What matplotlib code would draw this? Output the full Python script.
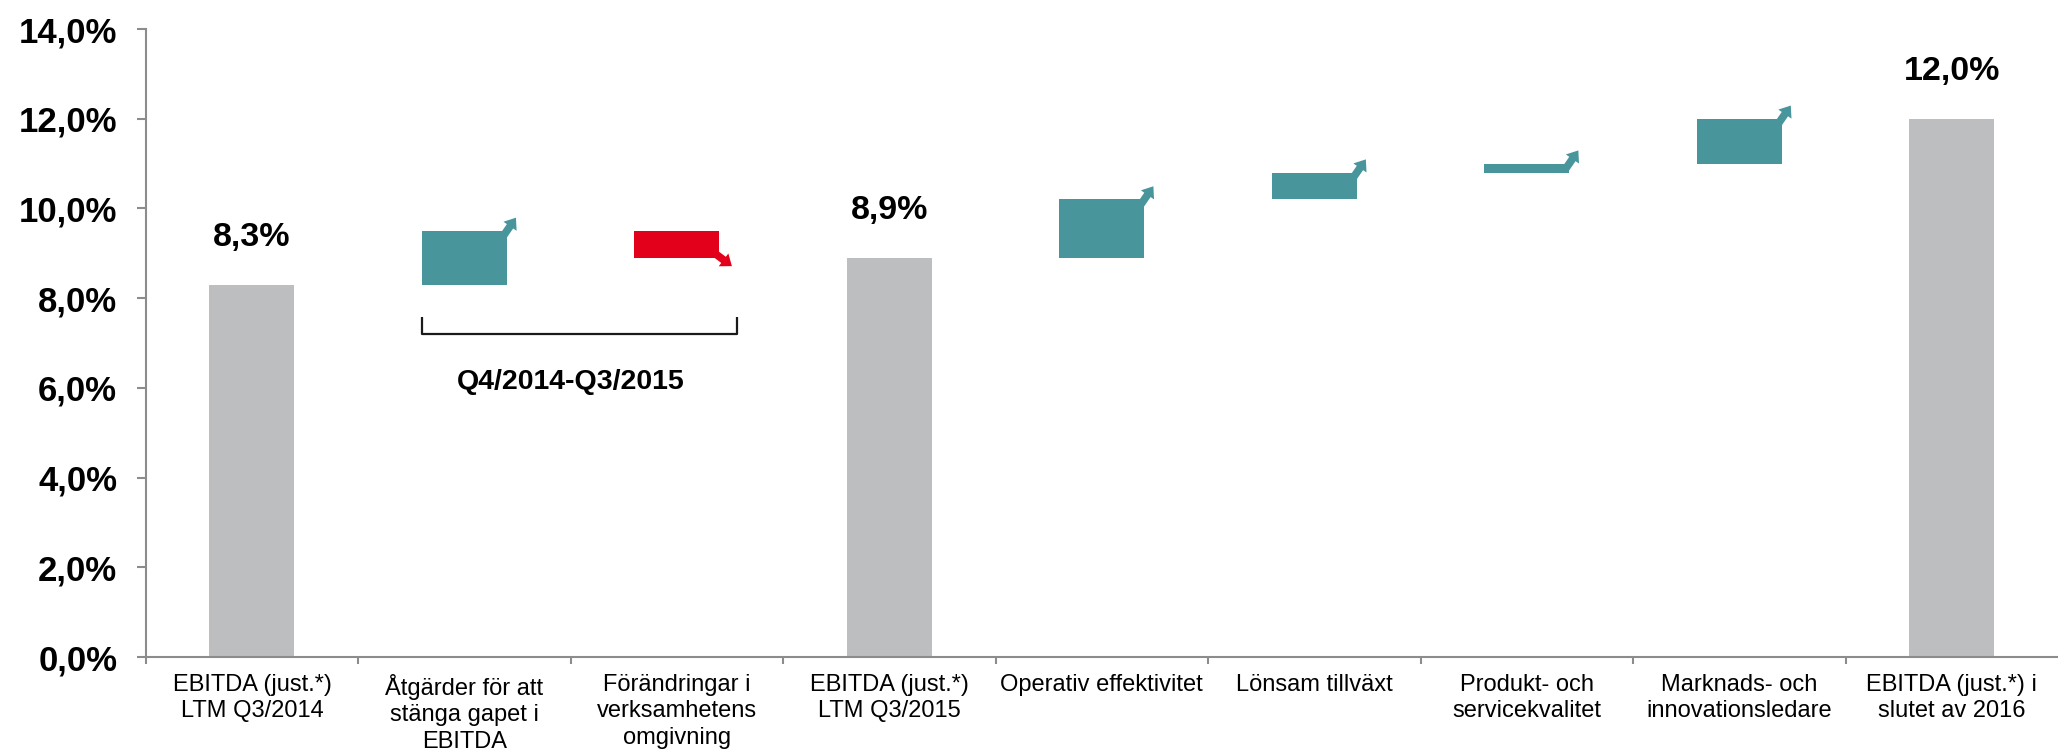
import matplotlib
matplotlib.use("Agg")
import matplotlib.pyplot as plt
from matplotlib.transforms import offset_copy

# ---- data ----
categories = [
    "EBITDA (just.*)\nLTM Q3/2014",
    "Åtgärder för att\nstänga gapet i\nEBITDA",
    "Förändringar i\nverksamhetens\nomgivning",
    "EBITDA (just.*)\nLTM Q3/2015",
    "Operativ effektivitet",
    "Lönsam tillväxt",
    "Produkt- och\nservicekvalitet",
    "Marknads- och\ninnovationsledare",
    "EBITDA (just.*) i\nslutet av 2016",
]
kinds = ["total", "delta", "delta", "total", "delta", "delta", "delta", "delta", "total"]
values = [8.3, 1.2, -0.6, 8.9, 1.3, 0.6, 0.2, 1.0, 12.0]
total_labels = ["8,3%", "", "", "8,9%", "", "", "", "", "12,0%"]
y_ticks = [0, 2, 4, 6, 8, 10, 12, 14]
y_tick_labels = ["0,0%", "2,0%", "4,0%", "6,0%", "8,0%", "10,0%", "12,0%", "14,0%"]
bracket_text = "Q4/2014-Q3/2015"

# ---- style ----
GRAY = "#BDBEC0"
TEAL = "#48959C"
RED = "#E2001A"
AXIS = "#8C8C8C"
plt.rcParams["font.family"] = ["Liberation Sans", "DejaVu Sans"]

fig = plt.figure(figsize=(20.58, 7.54), dpi=100)
ax = fig.add_axes([0.0708, 0.1286, 0.9292, 0.8329])

width = 0.4
xs = list(range(len(categories)))
running = 0.0
bottoms, heights, colors = [], [], []
for k, v in zip(kinds, values):
    if k == "total":
        bottoms.append(0.0)
        heights.append(v)
        colors.append(GRAY)
        running = v
    else:
        bottoms.append(running)
        heights.append(v)
        colors.append(TEAL if v > 0 else RED)
        running += v

ax.bar(xs, heights, bottom=bottoms, width=width, color=colors, linewidth=0, zorder=2)

# total labels
for x, k, b, h, lab in zip(xs, kinds, bottoms, heights, total_labels):
    if k == "total":
        ax.annotate(lab, xy=(x, b + h), xytext=(0, 28), textcoords="offset points",
                    ha="center", va="baseline", fontsize=24.5, fontweight="bold", color="black")

# arrows at the corners of the delta boxes
for x, k, b, h, c in zip(xs, kinds, bottoms, heights, colors):
    if k != "delta":
        continue
    xr = x + width / 2
    corner_y = b + h
    if h > 0:
        tip = (6.5, 9.5)
        tail = (-3.5, -5.0)
    else:
        tip = (9.0, -6.0)
        tail = (-5.0, 4.5)
    tr = offset_copy(ax.transData, fig=fig, x=tip[0], y=tip[1], units="points")
    ax.annotate("", xy=(xr, corner_y), xycoords=tr,
                xytext=(tail[0] - tip[0], tail[1] - tip[1]), textcoords="offset points",
                arrowprops=dict(width=5.5, headwidth=11.5, headlength=7.5, shrink=0,
                                facecolor=c, edgecolor="none", lw=0),
                zorder=3)

# bracket under the two adjustment steps
bx0 = xs[1] - width / 2
bx1 = xs[2] + width / 2 + 0.085
by_top, by_bot = 7.58, 7.2
ax.plot([bx0, bx0, bx1, bx1], [by_top, by_bot, by_bot, by_top], color="#1a1a1a",
        lw=1.6, solid_joinstyle="round", solid_capstyle="butt", zorder=3)
ax.annotate(bracket_text, xy=((xs[1] + xs[2]) / 2, by_bot), xytext=(0, -39.5),
            textcoords="offset points", ha="center", va="baseline",
            fontsize=20.5, fontweight="bold", color="black")

# axes
ax.set_xlim(-0.5, len(categories) - 0.5)
ax.set_ylim(0, 14)
ax.set_yticks(y_ticks)
ax.set_yticklabels(y_tick_labels, fontsize=25, fontweight="bold")
ax.tick_params(axis="y", direction="out", length=6.5, width=1.5, color=AXIS, pad=14)
ax.set_xticks(xs)
ax.set_xticklabels(categories, fontsize=17, linespacing=1.28)
ax.set_xticks([x + 0.5 for x in xs[:-1]] + [-0.5], minor=True)
ax.tick_params(axis="x", which="major", length=0, pad=12)
ax.tick_params(axis="x", which="minor", direction="out", length=5, width=1.5, color=AXIS)
for s in ["top", "right"]:
    ax.spines[s].set_visible(False)
for s in ["left", "bottom"]:
    ax.spines[s].set_color(AXIS)
    ax.spines[s].set_linewidth(1.5)
ax.set_facecolor("white")
fig.patch.set_facecolor("white")

fig.savefig("out.png", dpi=100, facecolor="white")
